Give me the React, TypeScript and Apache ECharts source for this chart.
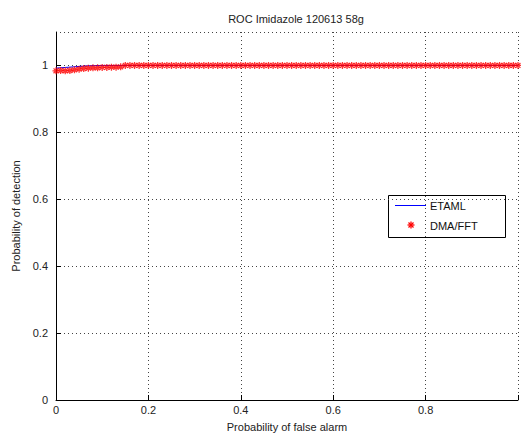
import React, { useEffect, useRef } from "react";
import * as echarts from "echarts";

const titleText = "ROC Imidazole 120613 58g";
const xAxisName = "Probability of false alarm";
const yAxisName = "Probability of detection";
const seriesNames = ["ETAML", "DMA/FFT"];

// false-alarm probabilities (x) at which the detectors were evaluated
const pfa = [
  0.00, 0.01, 0.02, 0.03, 0.04, 0.05, 0.06, 0.07, 0.08, 0.09,
  0.10, 0.11, 0.12, 0.13, 0.14, 0.15, 0.16, 0.17, 0.18, 0.19,
  0.20, 0.21, 0.22, 0.23, 0.24, 0.25, 0.26, 0.27, 0.28, 0.29,
  0.30, 0.31, 0.32, 0.33, 0.34, 0.35, 0.36, 0.37, 0.38, 0.39,
  0.40, 0.41, 0.42, 0.43, 0.44, 0.45, 0.46, 0.47, 0.48, 0.49,
  0.50, 0.51, 0.52, 0.53, 0.54, 0.55, 0.56, 0.57, 0.58, 0.59,
  0.60, 0.61, 0.62, 0.63, 0.64, 0.65, 0.66, 0.67, 0.68, 0.69,
  0.70, 0.71, 0.72, 0.73, 0.74, 0.75, 0.76, 0.77, 0.78, 0.79,
  0.80, 0.81, 0.82, 0.83, 0.84, 0.85, 0.86, 0.87, 0.88, 0.89,
  0.90, 0.91, 0.92, 0.93, 0.94, 0.95, 0.96, 0.97, 0.98, 0.99,
  1.00,
];

// DMA/FFT detection probabilities
const dmaPd = [
  0.984, 0.985, 0.984, 0.985, 0.987, 0.989, 0.991, 0.992, 0.993, 0.993,
  0.994, 0.994, 0.995, 0.995, 0.996, 1.0, 1.0, 1.0, 1.0, 1.0,
  1.0, 1.0, 1.0, 1.0, 1.0, 1.0, 1.0, 1.0, 1.0, 1.0,
  1.0, 1.0, 1.0, 1.0, 1.0, 1.0, 1.0, 1.0, 1.0, 1.0,
  1.0, 1.0, 1.0, 1.0, 1.0, 1.0, 1.0, 1.0, 1.0, 1.0,
  1.0, 1.0, 1.0, 1.0, 1.0, 1.0, 1.0, 1.0, 1.0, 1.0,
  1.0, 1.0, 1.0, 1.0, 1.0, 1.0, 1.0, 1.0, 1.0, 1.0,
  1.0, 1.0, 1.0, 1.0, 1.0, 1.0, 1.0, 1.0, 1.0, 1.0,
  1.0, 1.0, 1.0, 1.0, 1.0, 1.0, 1.0, 1.0, 1.0, 1.0,
  1.0, 1.0, 1.0, 1.0, 1.0, 1.0, 1.0, 1.0, 1.0, 1.0,
  1.0,
];

// ETAML curve (x, y)
const etamlPfa = [0.0, 0.01, 0.02, 0.03, 0.05, 0.07, 0.1, 0.2, 0.4, 0.6, 0.8, 1.0];
const etamlPd = [0.992, 0.993, 0.994, 0.995, 0.997, 0.999, 1.0, 1.0, 1.0, 1.0, 1.0, 1.0];

const FONT = "'Liberation Sans', Arial, sans-serif";
const ASTERISK = "path://M5 0L5 10M0 5L10 5M1.5 1.5L8.5 8.5M1.5 8.5L8.5 1.5";

export default function App() {
  const ref = useRef<HTMLDivElement>(null);
  useEffect(() => {
    if (!ref.current) return;
    const chart = echarts.init(ref.current, undefined, { renderer: "svg" });
    const red = { stroke: "#ff0000", lineWidth: 1.3 };
    const ax = 411, ay = 225, r = 3.5, d = 2.5;
    chart.setOption({
      animation: false,
      backgroundColor: "#fff",
      title: {
        text: titleText,
        left: 291,
        textAlign: "center",
        top: 8,
        textStyle: { fontFamily: FONT, fontSize: 11, fontWeight: "normal", color: "#222" },
      },
      grid: { left: 56, right: -5, top: 32, bottom: 41 },
      graphic: [
        {
          type: "group",
          z: 100,
          children: [
            {
              type: "rect",
              shape: { x: 388.5, y: 195.5, width: 117, height: 42 },
              style: { fill: "#fff", stroke: "#000", lineWidth: 1 },
            },
            {
              type: "line",
              shape: { x1: 395, y1: 205.5, x2: 426, y2: 205.5 },
              style: { stroke: "#0000ff", lineWidth: 1 },
            },
            {
              type: "text",
              x: 430,
              y: 205.5,
              style: { text: seriesNames[0], fontFamily: FONT, fontSize: 11, fill: "#111", verticalAlign: "middle" },
            },
            { type: "line", shape: { x1: ax, y1: ay - r, x2: ax, y2: ay + r }, style: red },
            { type: "line", shape: { x1: ax - r, y1: ay, x2: ax + r, y2: ay }, style: red },
            { type: "line", shape: { x1: ax - d, y1: ay - d, x2: ax + d, y2: ay + d }, style: red },
            { type: "line", shape: { x1: ax - d, y1: ay + d, x2: ax + d, y2: ay - d }, style: red },
            {
              type: "text",
              x: 430,
              y: 225.5,
              style: { text: seriesNames[1], fontFamily: FONT, fontSize: 11, fill: "#111", verticalAlign: "middle" },
            },
          ],
        },
      ],
      xAxis: {
        type: "value",
        min: 0,
        max: 1,
        interval: 0.2,
        name: xAxisName,
        nameLocation: "middle",
        nameGap: 21,
        nameTextStyle: { fontFamily: FONT, fontSize: 11, color: "#222" },
        axisLine: { lineStyle: { color: "#000", width: 1 } },
        axisTick: { inside: true, length: 5, lineStyle: { color: "#000" } },
        axisLabel: {
          fontFamily: FONT,
          fontSize: 11,
          color: "#222",
          margin: 4,
          formatter: (v: number) => (v === 1 ? "" : String(Math.round(v * 10) / 10)),
        },
        splitLine: { show: true, lineStyle: { color: "#444", type: [1, 3], width: 1 } },
      },
      yAxis: {
        type: "value",
        min: 0,
        max: 1.1,
        interval: 0.2,
        name: yAxisName,
        nameLocation: "middle",
        nameGap: 34,
        nameTextStyle: { fontFamily: FONT, fontSize: 11, color: "#222" },
        axisLine: { show: true, lineStyle: { color: "#000", width: 1 } },
        axisTick: { show: true, inside: true, length: 5, lineStyle: { color: "#000" } },
        axisLabel: {
          fontFamily: FONT,
          fontSize: 11,
          color: "#222",
          margin: 8,
          showMaxLabel: false,
          formatter: (v: number) => (v > 1.05 ? "" : String(Math.round(v * 10) / 10)),
        },
        splitLine: { show: true, lineStyle: { color: "#444", type: [1, 3], width: 1 } },
      },
      series: [
        {
          name: seriesNames[0],
          type: "line",
          data: etamlPfa.map((x, i) => [x, etamlPd[i]]),
          showSymbol: false,
          symbol: "none",
          lineStyle: { color: "#0000ff", width: 1 },
          itemStyle: { color: "#0000ff" },
          z: 2,
        },
        {
          name: seriesNames[1],
          type: "scatter",
          data: pfa.map((x, i) => [x, dmaPd[i]]),
          symbol: ASTERISK,
          symbolSize: 7,
          itemStyle: { color: "#ff0000", borderColor: "#ff0000", borderWidth: 1.3 },
          z: 3,
        },
      ],
    });
    return () => chart.dispose();
  }, []);
  return (
    <div
      ref={ref}
      style={{ position: "absolute", left: 0, top: 0, width: 521, height: 441, overflow: "hidden" }}
    />
  );
}
